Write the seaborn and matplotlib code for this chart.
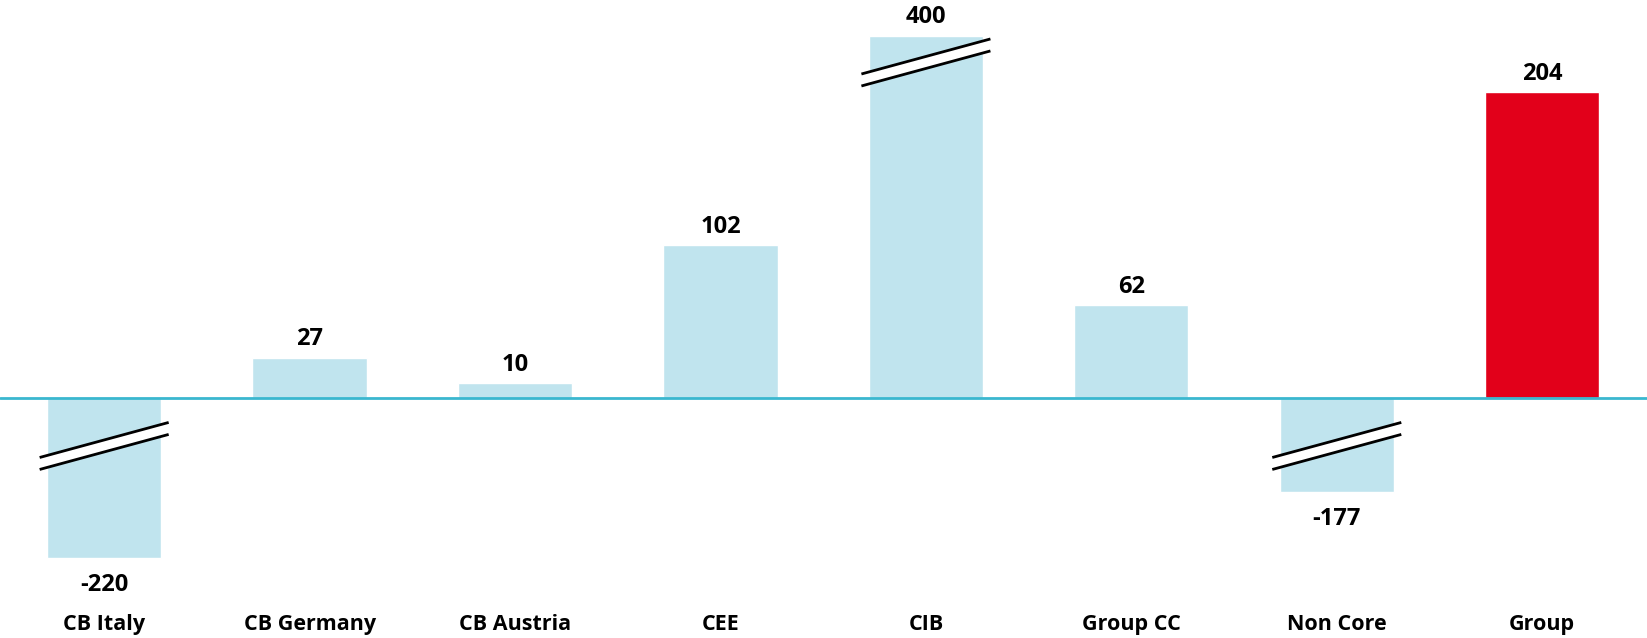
import numpy as np
import pandas as pd
import matplotlib
matplotlib.use("Agg")
import matplotlib.pyplot as plt
import seaborn as sns

# --- datos ---
categorias = ["CB Italy", "CB Germany", "CB Austria", "CEE", "CIB", "Group CC", "Non Core", "Group"]
valores = [-220, 27, 10, 102, 400, 62, -177, 204]
# altura dibujada (barras cortadas con simbolo de ruptura)
altura_dibujo = [-107, 27, 10, 102, 242, 62, -63, 204]
cortadas = [True, False, False, False, True, False, True, False]
posicion_corte = [-32, 0, 0, 0, 224, 0, -32, 0]

azul = "#C0E4EE"
rojo = "#E2001A"
colores = [rojo if c == "Group" else azul for c in categorias]

sns.set_theme(style="white")
plt.rcParams["font.family"] = ["Open Sans", "DejaVu Sans"]

df = pd.DataFrame({"cat": categorias, "alto": altura_dibujo})

fig = plt.figure(figsize=(16.47, 6.38), dpi=100)
ax = fig.add_axes([0, 0, 1, 1])
sns.barplot(data=df, x="cat", y="alto", hue="cat", palette=colores,
            width=0.556, legend=False, ax=ax, saturation=1)

ax.set_xlim(-0.507, 7.51)
ax.set_ylim(-160.2, 265.7)
ax.axhline(0, color="#3AB7CF", lw=2, zorder=3)
ax.axis("off")

# --- simbolos de ruptura ---
half = 0.278 + 0.036
gap = 8.0
for i, (c, yc) in enumerate(zip(cortadas, posicion_corte)):
    if not c:
        continue
    xs = np.array([i - half, i + half])
    y1 = yc + gap / 2 + np.array([-11.7, 11.7])
    y2 = yc - gap / 2 + np.array([-11.7, 11.7])
    ax.fill_between(xs, y2, y1, color="white", zorder=4, lw=0)
    ax.plot(xs, y1, color="black", lw=2, zorder=5, solid_capstyle="butt")
    ax.plot(xs, y2, color="black", lw=2, zorder=5, solid_capstyle="butt")

# --- etiquetas ---
for i, (v, h) in enumerate(zip(valores, altura_dibujo)):
    if v >= 0:
        ax.text(i, h + 12.2, f"{v}", ha="center", va="center",
                fontsize=17, fontweight="bold", color="black")
    else:
        ax.text(i, h - 17.5, f"{v}", ha="center", va="center",
                fontsize=17, fontweight="bold", color="black")
    ax.text(i, -151.5, categorias[i], ha="center", va="center",
            fontsize=15.5, fontweight="bold", color="black")

fig.savefig("out.png", dpi=100)
